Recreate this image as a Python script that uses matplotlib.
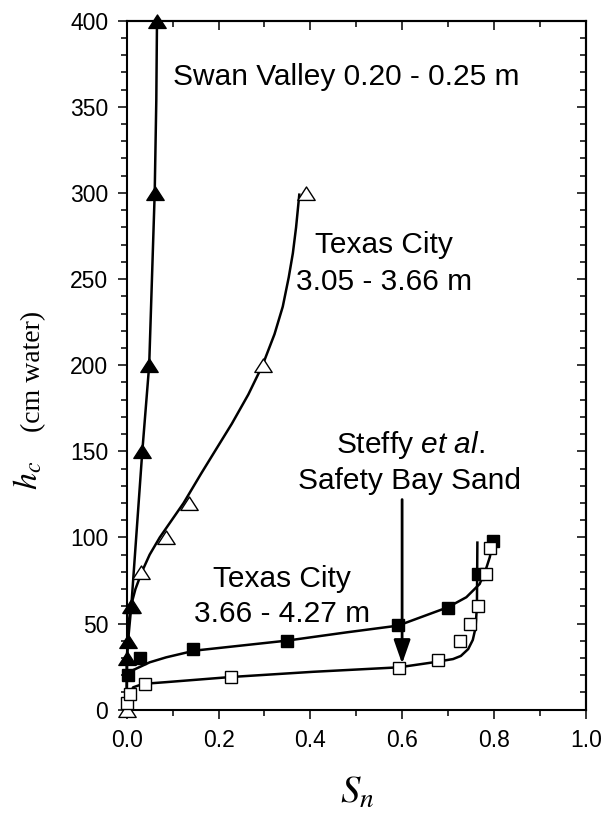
import matplotlib
matplotlib.use('Agg')
import matplotlib.pyplot as plt
from matplotlib.path import Path
from matplotlib.ticker import MultipleLocator, FormatStrFormatter

# Swan Valley 0.20 - 0.25 m (filled triangles)
swan_x = [0.000, 0.003, 0.010, 0.034, 0.049, 0.061, 0.066]
swan_y = [30, 40, 60, 150, 200, 300, 400]
swan_fit_x = [0.000, 0.000, 0.003, 0.010, 0.034, 0.049, 0.061, 0.0645, 0.066]
swan_fit_y = [0, 30, 40, 60, 150, 200, 300, 354, 400]

# Texas City 3.05 - 3.66 m (open triangles)
tc_hi_x = [0.000, 0.012, 0.032, 0.085, 0.136, 0.297, 0.391]
tc_hi_y = [0, 60, 80, 100, 120, 200, 300]
tc_hi_fit_x = [0.000, 0.001, 0.004, 0.009, 0.019, 0.033, 0.050, 0.072, 0.098, 0.124,
               0.162, 0.192, 0.229, 0.265, 0.296, 0.322, 0.340, 0.353, 0.362, 0.369, 0.376]
tc_hi_fit_y = [0, 30, 50, 60, 70, 80, 90, 100, 110, 120,
               137, 150, 166, 183, 200, 218, 234, 251, 265, 280, 299]

# Texas City 3.66 - 4.27 m (filled squares)
tc_lo_x = [0.003, 0.028, 0.145, 0.349, 0.591, 0.700, 0.765, 0.798]
tc_lo_y = [20, 30, 35, 40, 49, 59, 79, 98]
tc_lo_fit_x = [0.000, 0.014, 0.050, 0.086, 0.148, 0.349, 0.479, 0.591, 0.700,
               0.740, 0.769, 0.784, 0.791, 0.798]
tc_lo_fit_y = [17, 23, 27.5, 30.4, 34.3, 40.1, 44.9, 48.8, 59.5,
               65.3, 73, 82.7, 88.5, 97.2]

# Steffy et al. Safety Bay Sand (open squares)
steffy_x = [0.000, 0.008, 0.039, 0.228, 0.593, 0.678, 0.727, 0.749, 0.765, 0.782, 0.791]
steffy_y = [4, 9, 15, 19, 24, 29, 40, 50, 60, 79, 94]
steffy_fit_x = [0.000, 0.014, 0.036, 0.086, 0.228, 0.406, 0.593, 0.668, 0.711,
                0.728, 0.744, 0.754, 0.760, 0.763, 0.764]
steffy_fit_y = [5, 13, 15, 16, 19, 22, 24.6, 27.5, 29.4,
                31.2, 35.2, 40.5, 47.5, 60, 97]

arrow_x = 0.6
arrow_from = 122
arrow_to = 26.7

plt.rcParams['font.family'] = 'Liberation Sans'
plt.rcParams['mathtext.fontset'] = 'custom'
plt.rcParams['mathtext.rm'] = 'Liberation Sans'
plt.rcParams['mathtext.it'] = 'Liberation Sans:italic'

W, H = 605, 823
fig = plt.figure(figsize=(W / 100, H / 100), dpi=100)
left, right, top, bottom = 126.7, 585.7, 20.7, 709.7
ax = fig.add_axes([left / W, 1 - bottom / H, (right - left) / W, (bottom - top) / H])

# flatter triangle than matplotlib's '^'
tri = Path([(-1, -0.8), (1, -0.8), (0, 0.75), (-1, -0.8)], closed=True)

lw = 1.8
ax.plot(tc_hi_fit_x, tc_hi_fit_y, color='black', lw=lw, clip_on=False, zorder=2)
ax.plot(swan_fit_x, swan_fit_y, color='black', lw=lw, clip_on=False, zorder=2)
ax.plot(tc_lo_fit_x, tc_lo_fit_y, color='black', lw=lw, clip_on=False, zorder=2)
ax.plot(steffy_fit_x, steffy_fit_y, color='black', lw=lw, clip_on=False, zorder=2)

ax.plot(tc_hi_x, tc_hi_y, ls='none', marker=tri, ms=12.5, mfc='white', mec='black',
        mew=1.0, clip_on=False, zorder=3)
ax.plot(swan_x, swan_y, ls='none', marker=tri, ms=12.5, mfc='black', mec='black',
        mew=1.0, clip_on=False, zorder=4)
ax.plot(tc_lo_x, tc_lo_y, ls='none', marker='s', ms=9, mfc='black', mec='black',
        mew=1.0, clip_on=False, zorder=4)
ax.plot(steffy_x, steffy_y, ls='none', marker='s', ms=9, mfc='white', mec='black',
        mew=1.0, clip_on=False, zorder=5)

ax.annotate('', xy=(arrow_x, arrow_to), xytext=(arrow_x, arrow_from),
            arrowprops=dict(arrowstyle='-|>,head_length=0.8,head_width=0.28',
                            lw=2, color='black', shrinkA=0, shrinkB=0,
                            mutation_scale=18), zorder=6)

fs = 21.5
ax.text(0.100, 362.6, 'Swan Valley 0.20 - 0.25 m', fontsize=fs, ha='left', va='baseline')
ax.text(0.56, 265, 'Texas City', fontsize=fs, ha='center', va='baseline')
ax.text(0.56, 243.5, '3.05 - 3.66 m', fontsize=fs, ha='center', va='baseline')
ax.text(0.617, 149.3, r'Steffy $\it{et\ al.}$', fontsize=fs, ha='center', va='baseline')
ax.text(0.617, 128.4, 'Safety Bay Sand', fontsize=fs, ha='center', va='baseline')
ax.text(0.338, 71.5, 'Texas City', fontsize=fs, ha='center', va='baseline')
ax.text(0.338, 51.1, '3.66 - 4.27 m', fontsize=fs, ha='center', va='baseline')

ax.set_xlim(0, 1.0)
ax.set_ylim(0, 400)
ax.xaxis.set_major_locator(MultipleLocator(0.2))
ax.xaxis.set_minor_locator(MultipleLocator(0.1))
ax.xaxis.set_major_formatter(FormatStrFormatter('%.1f'))
ax.yaxis.set_major_locator(MultipleLocator(50))
ax.yaxis.set_minor_locator(MultipleLocator(10))

ax.tick_params(which='major', direction='out', length=6.8, width=1.1, labelsize=16.5, pad=6.5)
ax.tick_params(which='minor', direction='out', length=4.3, width=1.1)
ax.tick_params(axis='x', which='major', pad=7)
for s in ax.spines.values():
    s.set_linewidth(1.5)

secx = ax.secondary_xaxis('top')
secx.xaxis.set_major_locator(MultipleLocator(0.2))
secx.xaxis.set_minor_locator(MultipleLocator(0.1))
secx.tick_params(which='major', direction='in', length=6.8, width=1.1, labeltop=False)
secx.tick_params(which='minor', direction='in', length=4.3, width=1.1)
secy = ax.secondary_yaxis('right')
secy.yaxis.set_major_locator(MultipleLocator(50))
secy.yaxis.set_minor_locator(MultipleLocator(10))
secy.tick_params(which='major', direction='in', length=6.8, width=1.1, labelright=False)
secy.tick_params(which='minor', direction='in', length=4.3, width=1.1)
for sa in (secx, secy):
    for s in sa.spines.values():
        s.set_linewidth(1.5)

# axis titles
fig.text(37 / W, 1 - 490 / H, r'$h_c$', rotation=90, rotation_mode='anchor',
         ha='left', va='baseline', fontsize=24.5, math_fontfamily='stix')
fig.text(40 / W, 1 - 432 / H, '(cm water)', rotation=90, rotation_mode='anchor',
         ha='left', va='baseline', fontsize=20, family='Liberation Serif')
fig.text(357 / W, 1 - 803 / H, r'$S_n$', ha='center', va='baseline', fontsize=28,
         math_fontfamily='stix')

fig.savefig('out.png', dpi=100)
